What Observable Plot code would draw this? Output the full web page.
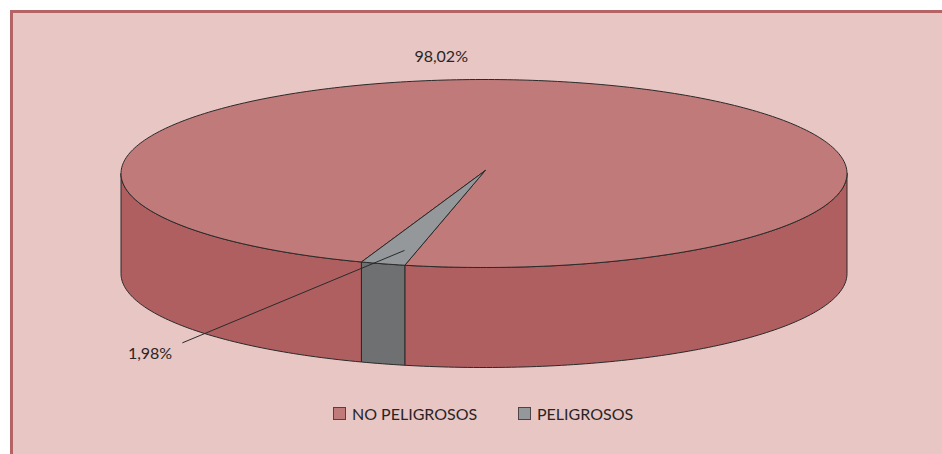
<!DOCTYPE html>
<html lang="es">
<head>
<meta charset="utf-8">
<script src="https://cdn.jsdelivr.net/npm/d3@7"></script>
<script src="https://cdn.jsdelivr.net/npm/@observablehq/plot@0.6"></script>
<style>
  html, body { margin: 0; padding: 0; background: #fff; overflow: hidden; width: 942px; height: 454px; }
  body { position: relative; font-family: Lato, "Noto Sans", sans-serif; color: #2b2426; }
  #panel { position: absolute; left: 10px; top: 10px; width: 940px; height: 450px;
           box-sizing: border-box; background: #e7c6c4;
           border-left: 3px solid #b56465; border-top: 3px solid #b56465; }
  #chart { position: absolute; left: 0; top: 0; }
  #chart svg { display: block; background: transparent; }
  #legend { position: absolute; top: 404px; left: 0; width: 942px; height: 20px; font-size: 16px; line-height: 20px; }
  .item { position: absolute; top: 0; white-space: nowrap; }
  .swatch { position: absolute; left: 0; top: 3px; width: 11px; height: 11px; border: 1.5px solid #4f4445; }
  .name { position: absolute; left: 19px; top: 0; }
</style>
</head>
<body>
<div id="panel"></div>
<div id="chart"></div>
<div id="legend"></div>
<script>
const categories = ["NO PELIGROSOS", "PELIGROSOS"];
const shares = [98.02, 1.98];
const shareLabels = ["98,02%", "1,98%"];
const topColors = ["#c07a79", "#94989b"];
const wallColors = ["#b05f61", "#6f7072"];

// Layout of the tilted disc, in unit-disc coordinates
const firstAngle = 102.6 * Math.PI / 180;
const wallDepth = 1.064;
const apex = [0.003, -0.03];
const labelAt = [[-0.118, -1.24], [-0.92, 1.915]];
const leaderEnd = [-0.83, 1.80];
const leaderRadius = 0.849;
const leaderFraction = 0.34;

const sweep = shares[1] / 100 * 2 * Math.PI;
const slices = [
  {i: 0, a0: firstAngle + sweep, a1: firstAngle + 2 * Math.PI},
  {i: 1, a0: firstAngle, a1: firstAngle + sweep}
];

const rim = (a, d = 0) => ({x: Math.cos(a), y: Math.sin(a) + d});
const arc = (a0, a1, d = 0) => {
  const n = Math.max(2, Math.ceil(Math.abs(a1 - a0) / (Math.PI / 180)));
  return d3.range(n + 1).map(k => rim(a0 + (a1 - a0) * k / n, d));
};

// Visible side walls: portions of each slice on the front half of the disc
const walls = [];
const front = (a0, a1, i) => {
  for (const turn of [0, 2 * Math.PI]) {
    const s = Math.max(a0, turn), e = Math.min(a1, turn + Math.PI);
    if (e > s) walls.push({i, pts: [...arc(s, e), ...arc(e, s, wallDepth)]});
  }
};
slices.forEach(s => front(s.a0, s.a1, s.i));

const close = pts => [...pts, pts[0]];
const polyMark = (pts, fill) => Plot.line(close(pts), {
  x: "x", y: "y", fill, stroke: "#2a2a2a", strokeWidth: 1, curve: "linear"
});

const [ax, ay] = apex;
const tops = slices.map(s => polyMark([{x: ax, y: ay}, ...arc(s.a0, s.a1)], topColors[s.i]));
const sideMarks = walls.map(w => polyMark(w.pts, wallColors[w.i]));

const leaderAngle = firstAngle + leaderFraction * sweep;
const leaderStart = {x: leaderRadius * Math.cos(leaderAngle), y: leaderRadius * Math.sin(leaderAngle)};

const plot = Plot.plot({
  width: 942, height: 390,
  margin: 0,
  style: {background: "transparent", overflow: "visible"},
  x: {domain: [-1, 1], range: [120.5, 846.5], axis: null},
  y: {domain: [-1, 1], range: [79, 267], axis: null},
  marks: [
    ...sideMarks,
    ...tops,
    Plot.line([leaderStart, {x: leaderEnd[0], y: leaderEnd[1]}], {x: "x", y: "y", stroke: "#2a2a2a", strokeWidth: 1}),
    Plot.text(shareLabels.map((t, i) => ({t, x: labelAt[i][0], y: labelAt[i][1]})), {
      x: "x", y: "y", text: "t", fontSize: 16, fontFamily: "Lato, 'Noto Sans', sans-serif", fill: "#2b2426"
    })
  ]
});
document.getElementById("chart").append(plot);

const legendX = [333, 518];
const legend = d3.select("#legend");
categories.forEach((c, i) => {
  const it = legend.append("div").attr("class", "item").style("left", legendX[i] + "px");
  it.append("div").attr("class", "swatch").style("background", topColors[i]);
  it.append("div").attr("class", "name").text(c);
});
</script>
</body>
</html>
